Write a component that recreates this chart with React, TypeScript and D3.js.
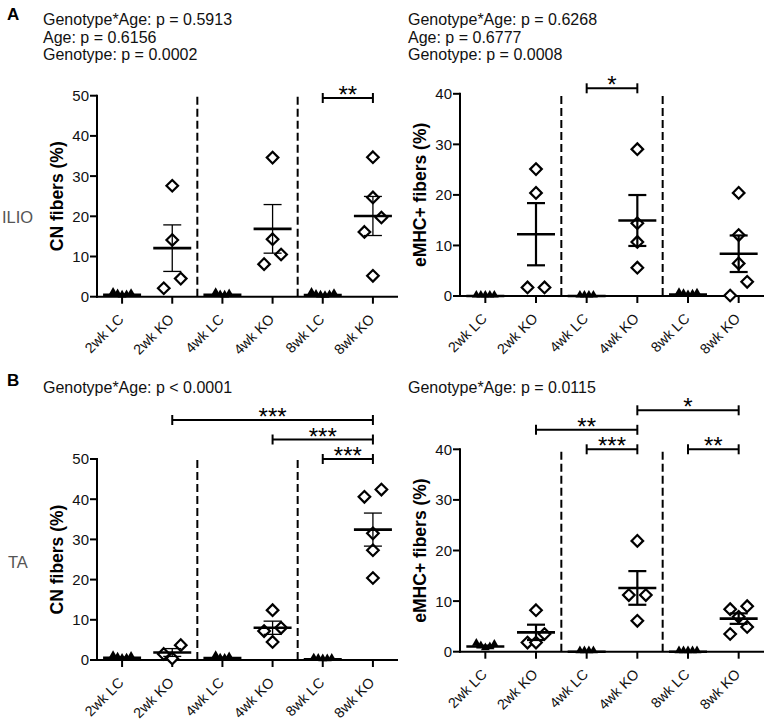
import React from 'react';
import * as d3 from 'd3';

const categories = ['2wk LC', '2wk KO', '4wk LC', '4wk KO', '8wk LC', '8wk KO'];
const isKO = [false, true, false, true, false, true];

const ticksCN = [0, 10, 20, 30, 40, 50];
const ticksEMHC = [0, 10, 20, 30, 40];

// values per category, in the order of `categories`
const ilioCN: number[][] = [
  [0.3, 0.6, 0.9, 0.5, 0.2],
  [27.6, 14.1, 2.1, 4.5],
  [0.2, 0.5, 0.8, 0.3],
  [34.6, 14.3, 8.1, 10.5],
  [0.2, 0.4, 0.9, 0.3, 0.6, 0.1],
  [34.7, 24.7, 19.7, 16.1, 5.2],
];
const ilioEMHC: number[][] = [
  [0, 0, 0, 0, 0],
  [25.1, 20.4, 1.7, 1.7],
  [0, 0, 0, 0],
  [29.05, 14.4, 10.7, 5.6],
  [0.1, 0.3, 0.4, 0.2, 0.5],
  [20.4, 12.05, 6.45, 2.8, 0.1],
];
const taCN: number[][] = [
  [0.3, 0.7, 0.9, 0.5, 0.2],
  [3.7, 1.5, 0.4],
  [0.2, 0.6, 0.9, 0.3],
  [12.4, 8.0, 7.2, 4.5],
  [0.1, 0.2, 0.3, 0.2, 0.1],
  [42.4, 40.6, 31.5, 27.3, 20.4],
];
const taEMHC: number[][] = [
  [0.6, 1.0, 1.3, 0.8, 1.5],
  [8.2, 3.5, 1.8, 1.8],
  [0, 0, 0, 0],
  [21.9, 11.2, 11.2, 6.1],
  [0, 0, 0, 0, 0],
  [9.0, 8.4, 6.9, 4.9, 3.5],
];

const ilioCNStats = ['Genotype*Age: p = 0.5913', 'Age: p = 0.6156', 'Genotype: p = 0.0002'];
const ilioEMHCStats = ['Genotype*Age: p = 0.6268', 'Age: p = 0.6777', 'Genotype: p = 0.0008'];
const taCNStats = ['Genotype*Age: p < 0.0001'];
const taEMHCStats = ['Genotype*Age: p = 0.0115'];

type Bracket = { from: number; to: number; level: number; label: string };
const ilioCNBrackets: Bracket[] = [{ from: 4, to: 5, level: 0, label: '**' }];
const ilioEMHCBrackets: Bracket[] = [{ from: 2, to: 3, level: 0, label: '*' }];
const taCNBrackets: Bracket[] = [
  { from: 4, to: 5, level: 0, label: '***' },
  { from: 3, to: 5, level: 1, label: '***' },
  { from: 1, to: 5, level: 2, label: '***' },
];
const taEMHCBrackets: Bracket[] = [
  { from: 2, to: 3, level: 0, label: '***' },
  { from: 4, to: 5, level: 0, label: '**' },
  { from: 1, to: 3, level: 1, label: '**' },
  { from: 3, to: 5, level: 2, label: '*' },
];

const FONT = '"Liberation Sans", Arial, Helvetica, sans-serif';

type PanelProps = {
  data: number[][];
  ticks: number[];
  yTitle: string;
  stats: string[];
  brackets: Bracket[];
  axisX: number;
  xEnd: number;
  y0: number;
  yTop: number;
  statsX: number;
  statsY: number;
  titleX: number;
  bracketBase: number;
  semWidth: number;
};

// Prism-like scatter: points whose heights are closer than `threshold` px are spread sideways
function layoutGroup(values: number[], y: d3.ScaleLinear<number, number>, threshold: number, half: number) {
  const items = values.map((v) => ({ v, py: y(v), dx: 0 }));
  const sorted = [...items].sort((a, b) => b.v - a.v);
  const clusters: typeof items[] = [];
  let cur: typeof items | null = null;
  for (const it of sorted) {
    if (cur && Math.abs(it.py - cur[0].py) < threshold) cur.push(it);
    else {
      cur = [it];
      clusters.push(cur);
    }
  }
  for (const c of clusters) {
    const n = c.length;
    let order: number[];
    if (n === 1) order = [0];
    else if (n === 2) order = [half, -half];
    else if (n === 3) order = [half, -half, 0];
    else {
      const slots = d3.range(n).map((k) => (k - (n - 1) / 2) * half);
      order = [...slots].sort((a, b) => Math.abs(b) - Math.abs(a) || a - b);
    }
    c.forEach((it, i) => (it.dx = order[i]));
  }
  return items;
}

const diamondPath = (r: number) => `M0,${-r}L${r},0L0,${r}L${-r},0Z`;
const trianglePath = d3.symbol(d3.symbolTriangle, 34)() as string;

function Panel(p: PanelProps) {
  const x = d3.scalePoint<string>().domain(categories).range([p.axisX, p.xEnd]).padding(0.5);
  const step = x.step();
  const yMax = p.ticks[p.ticks.length - 1];
  const y = d3.scaleLinear().domain([0, yMax]).range([p.y0, p.yTop]);
  const dashXs = [x(categories[1])! + step / 2, x(categories[3])! + step / 2];

  return (
    <g fontFamily={FONT}>
      {p.stats.map((s, i) => (
        <text key={i} x={p.statsX} y={p.statsY + i * 17.5} fontSize={16} fill="#111">
          {s}
        </text>
      ))}
      {/* dashed separators */}
      {dashXs.map((dx, i) => (
        <line key={i} x1={dx} x2={dx} y1={p.y0} y2={p.yTop + 1} stroke="#000" strokeWidth={2} strokeDasharray="8,4" />
      ))}
      {/* axes */}
      <line x1={p.axisX} x2={p.axisX} y1={p.y0 + 1} y2={p.yTop - 1} stroke="#000" strokeWidth={2} />
      <line x1={p.axisX - 1} x2={p.xEnd} y1={p.y0} y2={p.y0} stroke="#000" strokeWidth={2} />
      {p.ticks.map((t) => (
        <g key={t}>
          <line x1={p.axisX - 7} x2={p.axisX} y1={y(t)} y2={y(t)} stroke="#000" strokeWidth={2} />
          <text x={p.axisX - 8} y={y(t)} dy="0.36em" textAnchor="end" fontSize={15} fill="#111">
            {t}
          </text>
        </g>
      ))}
      {categories.map((c) => (
        <g key={c}>
          <line x1={x(c)} x2={x(c)} y1={p.y0} y2={p.y0 + 7} stroke="#000" strokeWidth={2} />
          <text
            transform={`translate(${x(c)! + 2.5},${p.y0 + 23.5}) rotate(-45)`}
            textAnchor="end"
            fontSize={14.3}
            fill="#111"
          >
            {c}
          </text>
        </g>
      ))}
      <text
        transform={`translate(${p.titleX},${(p.y0 + p.yTop) / 2}) rotate(-90)`}
        textAnchor="middle"
        fontSize={17.5}
        fontWeight="bold"
        fill="#000"
      >
        {p.yTitle}
      </text>
      {/* points */}
      {p.data.map((vals, ci) => {
        const cx = x(categories[ci])!;
        const ko = isKO[ci];
        const pts = ko ? layoutGroup(vals, y, 15, 8.5) : layoutGroup(vals, y, 8, 4.5);
        return (
          <g key={ci}>
            {pts.map((pt, k) =>
              ko ? (
                <path
                  key={k}
                  d={diamondPath(5.8)}
                  transform={`translate(${cx + pt.dx},${pt.py})`}
                  fill="#fff"
                  stroke="#000"
                  strokeWidth={2.2}
                />
              ) : (
                <path key={k} d={trianglePath} transform={`translate(${cx + pt.dx},${pt.py - 1})`} fill="#000" />
              )
            )}
          </g>
        );
      })}
      {/* mean and SEM */}
      {p.data.map((vals, ci) => {
        const cx = x(categories[ci])!;
        const m = d3.mean(vals)!;
        const sd = d3.deviation(vals) || 0;
        const sem = sd / Math.sqrt(vals.length);
        return (
          <g key={ci} stroke="#000">
            <line x1={cx - 19} x2={cx + 19} y1={y(m)} y2={y(m)} strokeWidth={2.6} />
            {sem > 0.05 && (
              <g strokeWidth={p.semWidth}>
                <line x1={cx} x2={cx} y1={y(m - sem)} y2={y(m + sem)} />
                <line x1={cx - 9} x2={cx + 9} y1={y(m + sem)} y2={y(m + sem)} />
                <line x1={cx - 9} x2={cx + 9} y1={y(m - sem)} y2={y(m - sem)} />
              </g>
            )}
          </g>
        );
      })}
      {/* significance brackets */}
      {p.brackets.map((b, i) => {
        const by = p.yTop + p.bracketBase - b.level * 19.5;
        const x1 = x(categories[b.from])!;
        const x2 = x(categories[b.to])!;
        return (
          <g key={i}>
            <line x1={x1} x2={x2} y1={by} y2={by} stroke="#000" strokeWidth={2} />
            <line x1={x1} x2={x1} y1={by - 5} y2={by + 5} stroke="#000" strokeWidth={2} />
            <line x1={x2} x2={x2} y1={by - 5} y2={by + 5} stroke="#000" strokeWidth={2} />
            <text x={(x1 + x2) / 2} y={by + 5} textAnchor="middle" fontSize={24} fill="#000">
              {b.label}
            </text>
          </g>
        );
      })}
    </g>
  );
}

export default function App() {
  return (
    <svg
      width={767}
      height={724}
      style={{ position: 'absolute', left: 0, top: 0, background: '#fff' }}
      fontFamily={FONT}
    >
      <rect width={767} height={724} fill="#fff" />
      <text x={7} y={20} fontSize={17} fontWeight="bold">A</text>
      <text x={7} y={386} fontSize={17} fontWeight="bold">B</text>
      <text x={2} y={222.5} fontSize={16.5} fill="#555">ILIO</text>
      <text x={8} y={568} fontSize={16.5} fill="#555">TA</text>
      <Panel
        data={ilioCN}
        ticks={ticksCN}
        yTitle="CN fibers (%)"
        stats={ilioCNStats}
        brackets={ilioCNBrackets}
        axisX={97}
        xEnd={398}
        y0={296.7}
        yTop={95.7}
        statsX={43}
        statsY={25}
        titleX={63}
        bracketBase={2.3}
        semWidth={1.3}
      />
      <Panel
        data={ilioEMHC}
        ticks={ticksEMHC}
        yTitle="eMHC+ fibers (%)"
        stats={ilioEMHCStats}
        brackets={ilioEMHCBrackets}
        axisX={460}
        xEnd={764}
        y0={296}
        yTop={93.8}
        statsX={408}
        statsY={25}
        titleX={426}
        bracketBase={-5.5}
        semWidth={2.2}
      />
      <Panel
        data={taCN}
        ticks={ticksCN}
        yTitle="CN fibers (%)"
        stats={taCNStats}
        brackets={taCNBrackets}
        axisX={97}
        xEnd={398}
        y0={660}
        yTop={459}
        statsX={43}
        statsY={393}
        titleX={63}
        bracketBase={0}
        semWidth={1.3}
      />
      <Panel
        data={taEMHC}
        ticks={ticksEMHC}
        yTitle="eMHC+ fibers (%)"
        stats={taEMHCStats}
        brackets={taEMHCBrackets}
        axisX={460}
        xEnd={764}
        y0={651.7}
        yTop={449.3}
        statsX={408}
        statsY={393}
        titleX={426}
        bracketBase={0}
        semWidth={2.2}
      />
    </svg>
  );
}
